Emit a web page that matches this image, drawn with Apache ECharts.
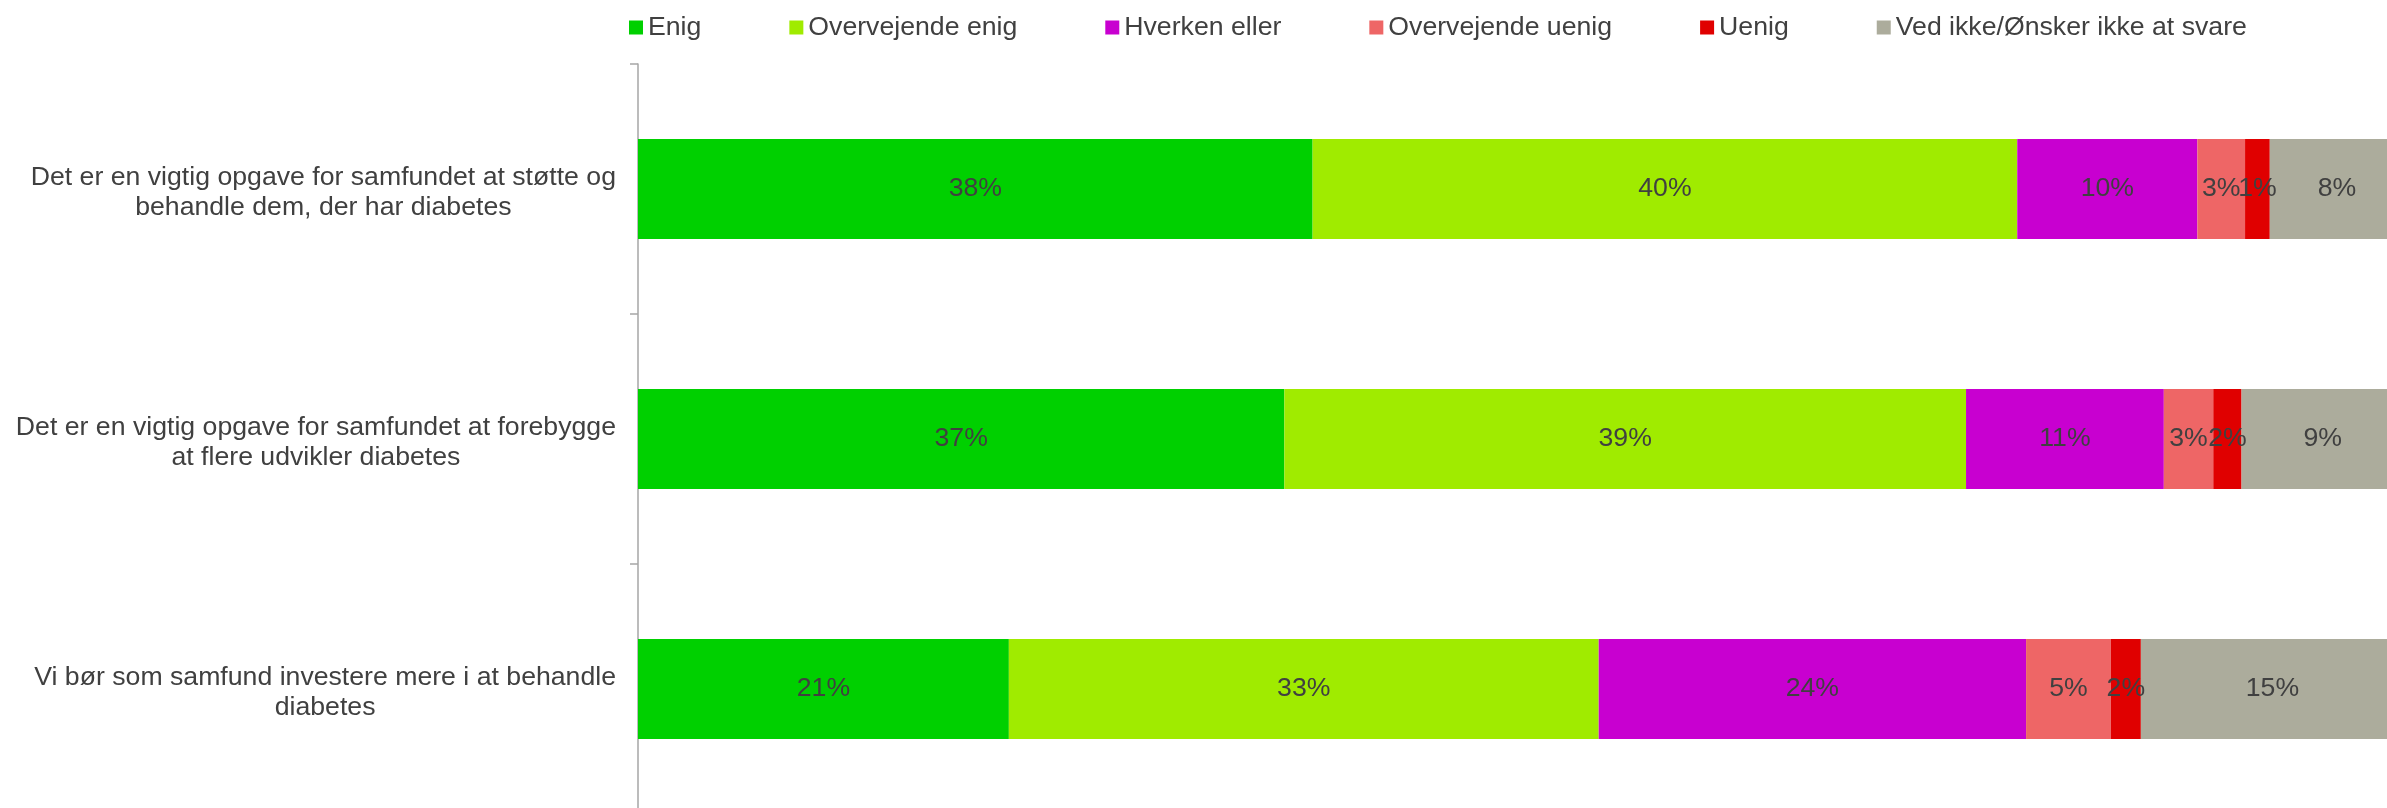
<!DOCTYPE html>
<html>
<head>
<meta charset="utf-8">
<script src="https://cdn.jsdelivr.net/npm/echarts@6/dist/echarts.min.js"></script>
<style>
html, body { margin: 0; padding: 0; background: #fff; overflow: hidden; }
#chart { width: 2387px; height: 808px; }
</style>
</head>
<body>
<div id="chart"></div>
<script>
"use strict";

/*****Data start*****/
var statements = [
	"Det er en vigtig opgave for samfundet at støtte og\nbehandle dem, der har diabetes",
	"Det er en vigtig opgave for samfundet at forebygge\nat flere udvikler diabetes",
	"Vi bør som samfund investere mere i at behandle\ndiabetes"
];
var answerNames = ["Enig", "Overvejende enig", "Hverken eller", "Overvejende uenig", "Uenig", "Ved ikke/Ønsker ikke at svare"];
var enig = [38.2, 36.6, 21.0];
var overvejendeEnig = [39.9, 38.6, 33.4];
var hverkenEller = [10.2, 11.2, 24.2];
var overvejendeUenig = [2.7, 2.8, 4.8];
var uenig = [1.4, 1.6, 1.7];
var vedIkke = [7.6, 9.2, 14.9];
/*****Data end*****/

var colors = ['#00D000', '#A0EB00', '#C800D0', '#EE6666', '#E00000', '#ACAC9C'];
var textColor = '#404040';
var fontFamily = 'Liberation Sans, Arial, sans-serif';

var makeSeries = function(name, values) {
	return {
		name: name,
		type: 'bar',
		stack: 'total',
		barWidth: 100,
		data: values,
		label: {
			show: true,
			position: 'inside',
			color: textColor,
			fontFamily: fontFamily,
			fontSize: 26.67,
			formatter: function(p) { return Math.round(p.value) + '%'; }
		}
	};
};

var chart = echarts.init(document.getElementById('chart'));
var option = {
	color: colors,
	animation: false,
	legend: {
		left: 624,
		top: 9,
		itemWidth: 14,
		itemHeight: 14,
		itemGap: 88,
		icon: 'rect',
		textStyle: {
			color: textColor,
			fontFamily: fontFamily,
			fontSize: 26.67
		},
		data: answerNames
	},
	grid: {
		left: 638,
		width: 1766,
		top: 64,
		height: 750,
		outerBoundsMode: 'none'
	},
	xAxis: {
		type: 'value',
		min: 0,
		max: 100,
		show: false
	},
	yAxis: {
		type: 'category',
		inverse: true,
		data: statements,
		axisLine: { show: true, lineStyle: { color: '#A6A6A6', width: 1.5 } },
		axisTick: { show: true, length: 8, lineStyle: { color: '#A6A6A6', width: 1.5 } },
		axisLabel: {
			margin: 22,
			align: 'right',
			padding: [7, 0, 0, 0],
			formatter: function(value) {
				return value.split('\n').map(function(line) { return '{c|' + line + '}'; }).join('\n');
			},
			rich: {
				c: {
					align: 'center',
					color: textColor,
					fontFamily: fontFamily,
					fontSize: 26.67,
					lineHeight: 30
				}
			}
		}
	},
	series: [
		makeSeries(answerNames[0], enig),
		makeSeries(answerNames[1], overvejendeEnig),
		makeSeries(answerNames[2], hverkenEller),
		makeSeries(answerNames[3], overvejendeUenig),
		makeSeries(answerNames[4], uenig),
		makeSeries(answerNames[5], vedIkke)
	]
};
chart.setOption(option);
</script>
</body>
</html>
